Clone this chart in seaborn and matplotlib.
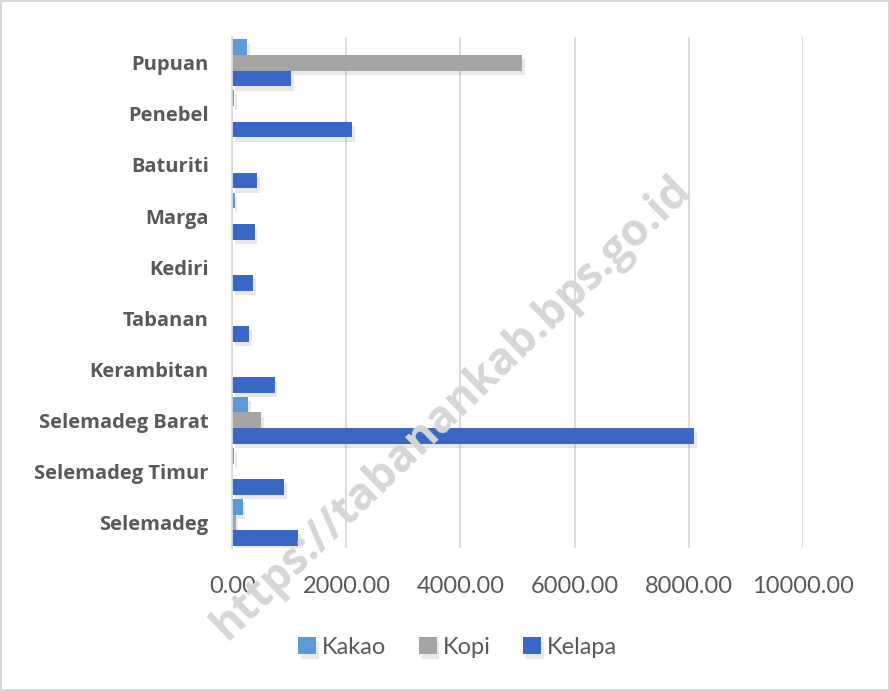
import pandas as pd
import matplotlib.pyplot as plt
import matplotlib.patheffects as pe
import seaborn as sns

# data
kecamatan = ['Pupuan', 'Penebel', 'Baturiti', 'Marga', 'Kediri', 'Tabanan',
             'Kerambitan', 'Selemadeg Barat', 'Selemadeg Timur', 'Selemadeg']
kakao = [260, 30, 0, 40, 0, 0, 0, 280, 30, 180]
kopi = [5080, 0, 0, 0, 0, 0, 0, 510, 0, 60]
kelapa = [1030, 2100, 440, 390, 370, 300, 740, 8100, 910, 1150]
series = ['Kakao', 'Kopi', 'Kelapa']
colors = ['#5b9bd5', '#a5a5a5', '#3a68c6']

df = pd.DataFrame({'Kecamatan': kecamatan, 'Kakao': kakao, 'Kopi': kopi, 'Kelapa': kelapa})
long = df.melt(id_vars='Kecamatan', var_name='Komoditas', value_name='Nilai')

sns.set_style('white')
plt.rcParams['font.family'] = ['Lato', 'DejaVu Sans']

fig = plt.figure(figsize=(8.9, 6.91), dpi=100)
fig.patch.set_edgecolor('#d9d9d9')
fig.patch.set_linewidth(1.5)
ax = fig.add_axes([0.261, 0.207, 0.641, 0.739])

sns.barplot(data=long, y='Kecamatan', x='Nilai', hue='Komoditas',
            order=kecamatan, hue_order=series, palette=colors, saturation=1,
            orient='h', width=0.92, ax=ax, errorbar=None, linewidth=0)

# soft drop shadow like the office chart
for p in ax.patches:
    p.set_path_effects([pe.SimplePatchShadow(offset=(2, -3), shadow_rgbFace='#808080', alpha=0.18),
                        pe.Normal()])

ax.set_xlim(0, 10000)
ax.set_xticks(range(0, 10001, 2000))
ax.set_xticklabels([f'{v:.2f}' for v in range(0, 10001, 2000)], fontsize=17, color='#595959')
ax.tick_params(axis='x', length=0, pad=20)
ax.tick_params(axis='y', length=0, pad=17)
for lab in ax.get_yticklabels():
    lab.set_family(['Open Sans', 'DejaVu Sans'])
    lab.set_fontweight('bold')
    lab.set_fontsize(14.5)
    lab.set_color('#595959')
ax.set_xlabel('')
ax.set_ylabel('')
ax.grid(axis='x', color='#d9d9d9', linewidth=1.3)
ax.set_axisbelow(True)
for s in ['top', 'right', 'bottom']:
    ax.spines[s].set_visible(False)
ax.spines['left'].set_color('#d9d9d9')
ax.spines['left'].set_linewidth(1.3)

ax.legend(loc='center', bbox_to_anchor=(0.395, -0.195), ncol=3, frameon=False,
          fontsize=17, handlelength=0.75, handleheight=0.75, handletextpad=0.25,
          columnspacing=1.4, labelcolor='#595959')

# watermark
fig.text(0.508, 0.41, 'https://tabanankab.bps.go.id', rotation=44, fontsize=32,
         fontweight='bold', family=['Open Sans', 'DejaVu Sans'], color='#d6d6d6',
         ha='center', va='center', zorder=10)

fig.savefig('out.png', dpi=100)
